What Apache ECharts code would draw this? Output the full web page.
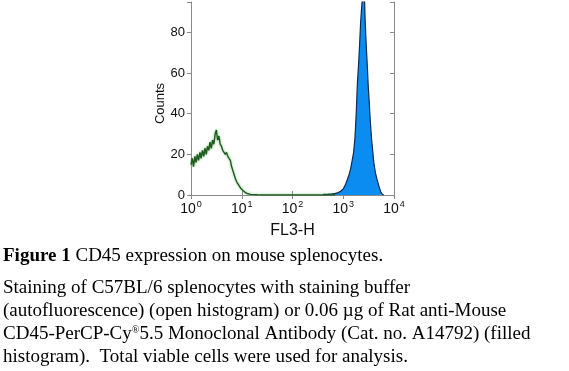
<!DOCTYPE html>
<html>
<head>
<meta charset="utf-8">
<script src="https://cdn.jsdelivr.net/npm/echarts@6/dist/echarts.min.js"></script>
<style>
html,body{margin:0;padding:0;background:#fff;}
#chart{width:569px;height:371px;}
</style>
</head>
<body>
<div id="chart"></div>
<script>
// Open histogram (autofluorescence): FL3-H channel values and counts
const greenX = [1.00,1.06,1.12,1.19,1.26,1.33,1.41,1.50,1.58,1.68,1.78,1.88,2.00,2.11,2.24,2.37,2.51,2.66,2.82,2.99,3.16,3.35,3.55,3.76,3.98,4.22,4.47,4.73,5.01,5.31,5.62,5.96,6.31,6.68,7.08,7.50,7.94,8.41,8.91,9.44,10.0,10.6,11.2,11.9,12.6,13.3,14.1,15.0,16.8,20,25,40,100,300,700];
const greenY = [15,18,14,19,16,20,17,21,18,22,19,23,20,24,22,26,23,27,25,30,32,27,29,25,24,22,22,20,21,19,18,17,14,12,10,8,6.5,5.5,4.5,3.5,2.8,2.2,1.6,1.1,0.8,0.6,0.4,0.3,0.2,0.1,0,0,0,0,0];
// Filled histogram (CD45-PerCP-Cy5.5)
const blueX = [400,500,600,700,800,900,1000,1100,1200,1300,1400,1500,1600,1700,1800,1900,2000,2100,2200,2300,2400,2500,2600,2700,2800,2900,3000,3100,3250,3400,3600,3800,4000,4300,4700,5100,5500,5900,6300];
const blueY = [0.3,0.4,0.6,0.8,1.2,2,3,5,7.5,10,13,17,21,28,40,55,64,74,85,92,98,102,100,86,77,69,62,54,46,37,28,22,16,11,7,4,1.5,0.3,0];
const yTicks = [0,20,40,60,80];
const xTickExp = ['0','1','2','3','4'];
const xName = 'FL3-H';
const yName = 'Counts';
const captionLines = [
  [{t:'Figure 1', s:'bold'}, {t:' CD45 expression on mouse splenocytes.', s:'n'}],
  [{t:'Staining of C57BL/6 splenocytes with staining buffer', s:'n'}],
  [{t:'(autofluorescence) (open histogram) or 0.06 µg of Rat anti-Mouse', s:'n'}],
  [{t:'CD45-PerCP-Cy', s:'n'}, {t:'®', s:'sup'}, {t:'5.5 Monoclonal Antibody (Cat. no. A14792) (filled', s:'n'}],
  [{t:'histogram).  Total viable cells were used for analysis.', s:'n'}]
];

const greenData = greenX.map((x,i)=>[x, greenY[i]]);
const blueData = blueX.map((x,i)=>[x, blueY[i]]);

const chart = echarts.init(document.getElementById('chart'), null, {renderer:'canvas'});
const frame = '#8a8a8a';
const serif = '"Liberation Serif", "DejaVu Serif", serif';
const capY = [258, 290, 313, 336, 359];
const graphics = captionLines.map((parts, i) => ({
  type:'text', left: 3, top: capY[i] - 11,
  style:{
    text: parts.map(p => '{' + p.s + '|' + p.t + '}').join(''),
    rich:{
      bold:{fontFamily:serif, fontSize:19, fontWeight:'bold', fill:'#000', lineHeight:21},
      n:{fontFamily:serif, fontSize:19, fill:'#000', lineHeight:21},
      sup:{fontFamily:serif, fontSize:10, fill:'#000', lineHeight:21, padding:[0,0,9,0]}
    }
  }
}));

chart.setOption({
  animation:false,
  backgroundColor:'#fff',
  grid:{left:191, top:2, width:203, height:193, containLabel:false},
  xAxis:[{
    type:'log', logBase:10, min:1, max:10000, position:'bottom',
    name:xName, nameLocation:'middle', nameGap:23,
    nameTextStyle:{fontFamily:'"Liberation Sans", Arial, sans-serif', fontSize:16, color:'#111'},
    axisLine:{show:true, lineStyle:{color:frame, width:1}},
    axisTick:{show:true, inside:true, length:4, lineStyle:{color:frame}},
    splitLine:{show:false},
    axisLabel:{
      margin:5,
      formatter:(v)=>{ const e = Math.round(Math.log10(v)); return '{b|10}{s|' + xTickExp[e] + '}'; },
      rich:{
        b:{fontFamily:'"Liberation Sans", Arial, sans-serif', fontSize:14, color:'#111', lineHeight:18},
        s:{fontFamily:'"Liberation Sans", Arial, sans-serif', fontSize:9, color:'#111', lineHeight:18, padding:[0,0,9,1]}
      }
    }
  },{
    type:'log', logBase:10, min:1, max:10000, position:'top',
    axisLine:{show:true, lineStyle:{color:frame, width:1}},
    axisTick:{show:true, inside:true, length:4, lineStyle:{color:frame}},
    axisLabel:{show:false}, splitLine:{show:false}
  }],
  yAxis:[{
    type:'value', min:0, max:95, interval:20, position:'left',
    name:yName, nameLocation:'middle', nameGap:24, nameRotate:90,
    nameTextStyle:{fontFamily:'"Liberation Sans", Arial, sans-serif', fontSize:13, color:'#111', padding:[0,0,0,-10]},
    axisLine:{show:true, lineStyle:{color:frame, width:1}},
    axisTick:{show:true, inside:false, length:4, lineStyle:{color:frame}},
    splitLine:{show:false},
    axisLabel:{
      margin:6, fontFamily:'"Liberation Sans", Arial, sans-serif', fontSize:13, color:'#111',
      formatter:(v)=> yTicks.indexOf(v) >= 0 ? String(v) : ''
    }
  },{
    type:'value', min:0, max:95, interval:20, position:'right',
    axisLine:{show:true, lineStyle:{color:frame, width:1}},
    axisTick:{show:true, inside:true, length:4, lineStyle:{color:frame}},
    axisLabel:{show:false}, splitLine:{show:false}
  }],
  series:[{
    type:'line', xAxisIndex:0, yAxisIndex:0, data:blueData, showSymbol:false, symbol:'none',
    lineStyle:{color:'#102a50', width:1.2},
    areaStyle:{color:'#0a8cf0', opacity:1},
    clip:true, z:2
  },{
    type:'line', xAxisIndex:0, yAxisIndex:0, data:greenData, showSymbol:false, symbol:'none',
    lineStyle:{color:'#1d5a1d', width:1.4, shadowColor:'rgba(90,170,90,0.7)', shadowBlur:3},
    clip:true, z:3
  }],
  graphic: graphics
});
</script>
</body>
</html>
